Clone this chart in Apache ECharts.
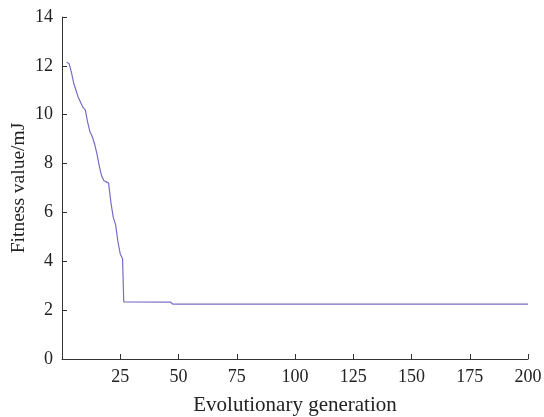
<!DOCTYPE html>
<html>
<head>
<meta charset="utf-8">
<script src="https://cdn.jsdelivr.net/npm/echarts@6/dist/echarts.min.js"></script>
<style>html,body{margin:0;padding:0;background:#fff}#c{width:544px;height:417px}</style>
</head>
<body>
<div id="c"></div>
<script>
const generations = [2, 3, 4, 5, 6, 7, 8, 9, 10, 11, 12, 13, 14, 15, 16, 17, 18, 19, 20, 21, 22, 23, 24, 25, 26, 26.5, 27, 46.5, 47.5, 200];
const fitness = [12.15, 12.1, 11.75, 11.3, 11.0, 10.7, 10.5, 10.3, 10.2, 9.7, 9.3, 9.1, 8.8, 8.4, 7.9, 7.5, 7.3, 7.25, 7.2, 6.4, 5.8, 5.5, 4.8, 4.3, 4.1, 2.34, 2.34, 2.33, 2.25, 2.25];
const xTicks = [25, 50, 75, 100, 125, 150, 175, 200];
const yTicks = [0, 2, 4, 6, 8, 10, 12, 14];
const xTitle = 'Evolutionary generation';
const yTitle = 'Fitness value/mJ';

const font = 'Liberation Serif';
const chart = echarts.init(document.getElementById('c'), null, {renderer: 'canvas'});
chart.setOption({
  backgroundColor: '#fff',
  animation: false,
  grid: {left: 62, right: 16, top: 17, bottom: 58, containLabel: false, outerBoundsMode: 'none'},
  xAxis: {
    type: 'value', min: 0, max: 200, interval: 25,
    name: xTitle, nameLocation: 'middle', nameGap: 36, nameMoveOverlap: false,
    nameTextStyle: {fontFamily: font, fontSize: 21, color: '#222'},
    axisLine: {lineStyle: {color: '#333', width: 1}},
    axisTick: {inside: true, length: 5, lineStyle: {color: '#333'}},
    axisLabel: {fontFamily: font, fontSize: 18, color: '#222', margin: 9,
      formatter: v => xTicks.includes(v) ? String(v) : ''},
    splitLine: {show: false}
  },
  yAxis: {
    type: 'value', min: 0, max: 14, interval: 2,
    name: yTitle, nameLocation: 'middle', nameGap: 33, nameMoveOverlap: false,
    nameTextStyle: {fontFamily: font, fontSize: 19.5, color: '#222'},
    axisLine: {show: true, lineStyle: {color: '#333', width: 1}},
    axisTick: {show: true, inside: true, length: 5, lineStyle: {color: '#333'}},
    axisLabel: {fontFamily: font, fontSize: 18, color: '#222', margin: 9,
      formatter: v => yTicks.includes(v) ? String(v) : ''},
    splitLine: {show: false}
  },
  series: [{
    type: 'line',
    data: generations.map((g, i) => [g, fitness[i]]),
    showSymbol: false,
    lineStyle: {color: '#7a6cc6', width: 1.2},
    itemStyle: {color: '#7a6cc6'}
  }]
});
</script>
</body>
</html>
